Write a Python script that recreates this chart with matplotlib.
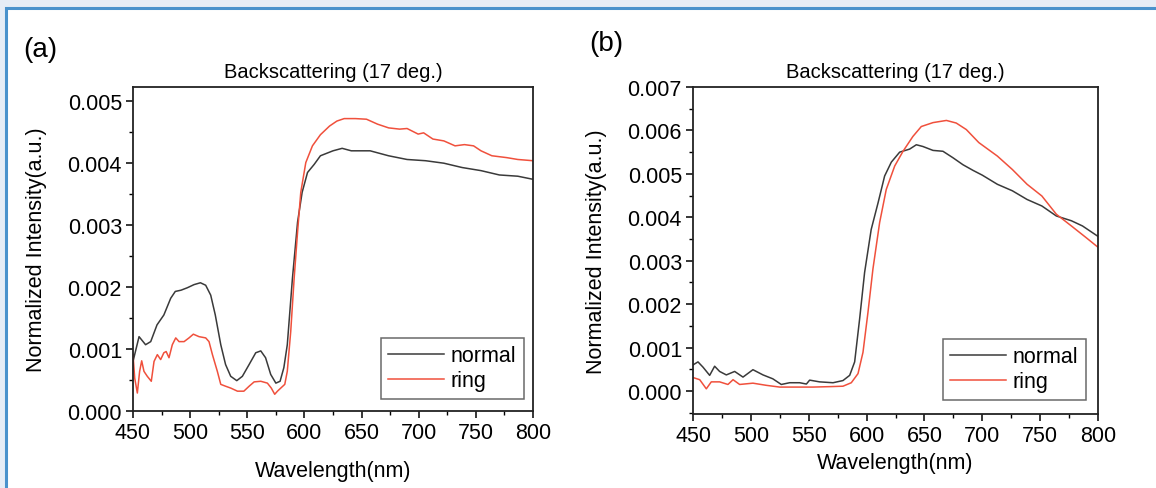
import matplotlib.pyplot as plt
import numpy as np
from matplotlib.patches import Rectangle
from matplotlib.ticker import MultipleLocator

plt.rcParams['font.family'] = ['Liberation Sans', 'DejaVu Sans']

# panel (a) data
a_normal_wl = [450, 455.3, 461, 465.5, 471, 477, 483, 487, 492, 497.6, 503.4, 509, 513.6, 518, 522,
               526.8, 531, 535.5, 540.8, 545.7, 551.6, 557.4, 561.8, 566, 570.5, 575, 578.7, 582, 585,
               589.5, 594, 598, 602.7, 608.5, 614, 625, 633, 641, 657.5, 673.6, 689.8, 706, 722, 738,
               754.5, 770.6, 786.7, 800]
a_normal = [0.0008, 0.0012, 0.00107, 0.00112, 0.00139, 0.00155, 0.00182, 0.00193, 0.00195, 0.00199,
            0.00204, 0.00207, 0.00203, 0.00187, 0.00155, 0.00107, 0.00075, 0.00056, 0.00049, 0.00056,
            0.00075, 0.00094, 0.00097, 0.00086, 0.00059, 0.00045, 0.00048, 0.0007, 0.00107, 0.00214,
            0.00305, 0.00353, 0.00385, 0.00398, 0.00412, 0.0042, 0.00424, 0.0042, 0.0042, 0.00412,
            0.00406, 0.00404, 0.004, 0.00393, 0.00388, 0.00381, 0.00379, 0.00374]

a_ring_wl = [450, 451.5, 453.8, 455.8, 457.6, 459.6, 462.5, 466, 468.4, 471.3, 474.2, 477, 479, 481.5,
             484.4, 487.4, 490.3, 494.7, 499, 502.8, 507.8, 513.6, 516.5, 519.5, 523.8, 526.8, 531,
             535.5, 541.4, 547, 551.6, 556, 561.8, 567.6, 571, 574, 576.4, 579.3, 582.8, 585, 588, 591,
             594, 596.8, 601.2, 607, 614, 622, 628.4, 634.8, 644.6, 654.3, 664, 673.7, 683.3, 689.8,
             699.5, 704.3, 712.4, 722, 731.8, 740, 748, 754.5, 764, 777, 786.7, 800]
a_ring = [0.00091, 0.00053, 0.00029, 0.00064, 0.00081, 0.00064, 0.00056, 0.00048, 0.0008, 0.00091,
          0.00083, 0.00094, 0.00096, 0.00086, 0.00107, 0.00118, 0.00112, 0.00112, 0.00118, 0.00124,
          0.0012, 0.00118, 0.00112, 0.00091, 0.00064, 0.00043, 0.0004, 0.00037, 0.00032, 0.00032,
          0.0004, 0.00047, 0.00048, 0.00045, 0.00037, 0.00027, 0.00032, 0.00037, 0.00043, 0.00064,
          0.00128, 0.00214, 0.00289, 0.00353, 0.00401, 0.00428, 0.00446, 0.0046, 0.00468, 0.00472,
          0.00472, 0.00471, 0.00463, 0.00457, 0.00455, 0.00456, 0.00447, 0.00449, 0.00439, 0.00436,
          0.00428, 0.0043, 0.00428, 0.0042, 0.00412, 0.00409, 0.00406, 0.00404]

# panel (b) data
b_normal_wl = [450, 454.3, 458.6, 464.4, 468.7, 473, 478.8, 486, 493.2, 501.8, 510.5, 519, 526.3, 533.5,
               542.2, 548, 550.8, 559.4, 571, 579.6, 585.4, 589.7, 594, 598.3, 604, 609.9, 615.6, 621.4,
               628.6, 637.2, 643, 648.7, 657.4, 666, 674.7, 683.3, 692, 700, 713, 726, 738.7, 751.5,
               764, 777, 786.6, 800]
b_normal = [0.0006, 0.00067, 0.00055, 0.00036, 0.00057, 0.00045, 0.00037, 0.00045, 0.00032, 0.00049,
            0.00037, 0.00028, 0.00015, 0.00019, 0.00019, 0.00016, 0.00025, 0.00021, 0.00019, 0.00024,
            0.00036, 0.00067, 0.00166, 0.00273, 0.00372, 0.00433, 0.00495, 0.00527, 0.0055, 0.00557,
            0.00567, 0.00563, 0.00554, 0.00552, 0.00537, 0.00521, 0.00508, 0.00497, 0.00476, 0.00461,
            0.00441, 0.00426, 0.00403, 0.00392, 0.0038, 0.00356]

b_ring_wl = [450, 455.8, 461.5, 465.8, 473, 480.2, 484.6, 490.3, 501.8, 513.4, 524.9, 539.3, 553.7, 568,
             579.6, 586.8, 592.6, 596.9, 601.2, 605.5, 611.3, 617, 624.3, 631.5, 640, 647.3, 657.4,
             669, 677.5, 686.2, 697, 713, 726, 738.7, 751.5, 764, 777, 789.8, 800]
b_ring = [0.00031, 0.00026, 0.00005, 0.00021, 0.00021, 0.00015, 0.00026, 0.00015, 0.00018, 0.00013,
          0.00009, 0.00009, 0.00009, 0.0001, 0.00011, 0.00019, 0.0004, 0.00089, 0.00181, 0.00281,
          0.00388, 0.00464, 0.00518, 0.00552, 0.00586, 0.00609, 0.00618, 0.00623, 0.00617, 0.00602,
          0.00572, 0.00541, 0.0051, 0.00476, 0.00449, 0.00407, 0.0038, 0.00353, 0.00331]

c_normal = '#3a3a3a'
c_ring = '#f0503c'
fs = 15.5

fig = plt.figure(figsize=(11.56, 4.89), dpi=100)

# light blue page frame
fig.patches.append(Rectangle((0, 0), 1, 1, transform=fig.transFigure, facecolor='#e6edf6',
                             edgecolor='none', zorder=-3))
fig.patches.append(Rectangle((5.5 / 1156, -0.1), 1.2, 1 - 8.5 / 489 + 0.1, transform=fig.transFigure,
                             facecolor='white', edgecolor='#4a92cc', linewidth=2.2, zorder=-2))


def style_axes(ax, ylim, ymaj, ymin, anchor):
    ax.set_xlim(450, 800)
    ax.set_ylim(*ylim)
    ax.xaxis.set_major_locator(MultipleLocator(50))
    ax.xaxis.set_minor_locator(MultipleLocator(25))
    ax.yaxis.set_major_locator(MultipleLocator(ymaj))
    ax.yaxis.set_minor_locator(MultipleLocator(ymin))
    ax.yaxis.set_major_formatter(plt.FuncFormatter(lambda v, p: '%.3f' % v))
    ax.tick_params(which='major', direction='out', length=5, width=1.1, labelsize=fs, pad=3)
    ax.tick_params(which='minor', direction='out', length=3, width=1.0)
    for s in ax.spines.values():
        s.set_linewidth(1.3)
        s.set_color('#222222')
    ax.set_xlabel('Wavelength(nm)', fontsize=fs)
    ax.set_ylabel('Normalized Intensity(a.u.)', fontsize=fs)
    ax.set_title('Backscattering (17 deg.)', fontsize=14.5, pad=7)
    leg = ax.legend(loc='lower right', fontsize=fs, frameon=True, fancybox=False,
                    borderpad=0.35, handlelength=2.6, handletextpad=0.3, labelspacing=0.2,
                    borderaxespad=0, bbox_to_anchor=anchor)
    leg.get_frame().set_edgecolor('#444444')
    leg.get_frame().set_linewidth(1.1)


ax1 = fig.add_axes([133 / 1156, 77 / 489, 400 / 1156, 324 / 489])
ax1.plot(a_normal_wl, a_normal, color=c_normal, lw=1.1, label='normal')
ax1.plot(a_ring_wl, a_ring, color=c_ring, lw=1.1, label='ring')
style_axes(ax1, (0, 0.00523), 0.001, 0.0005, (0.977, 0.037))
ax1.yaxis.set_label_coords(-0.215, 0.5)
ax1.xaxis.labelpad = 12
fig.text(40 / 1156, 1 - 50 / 489, '(a)', fontsize=20, ha='center', va='center')

ax2 = fig.add_axes([693 / 1156, 74 / 489, 405 / 1156, 327 / 489])
ax2.plot(b_normal_wl, b_normal, color=c_normal, lw=1.1, label='normal')
ax2.plot(b_ring_wl, b_ring, color=c_ring, lw=1.1, label='ring')
style_axes(ax2, (-0.00053, 0.007), 0.001, 0.0005, (0.97, 0.043))
ax2.yaxis.set_label_coords(-0.213, 0.5)
ax2.xaxis.labelpad = 4
fig.text(606 / 1156, 1 - 44 / 489, '(b)', fontsize=20, ha='center', va='center')

fig.savefig('out.png', dpi=100)
